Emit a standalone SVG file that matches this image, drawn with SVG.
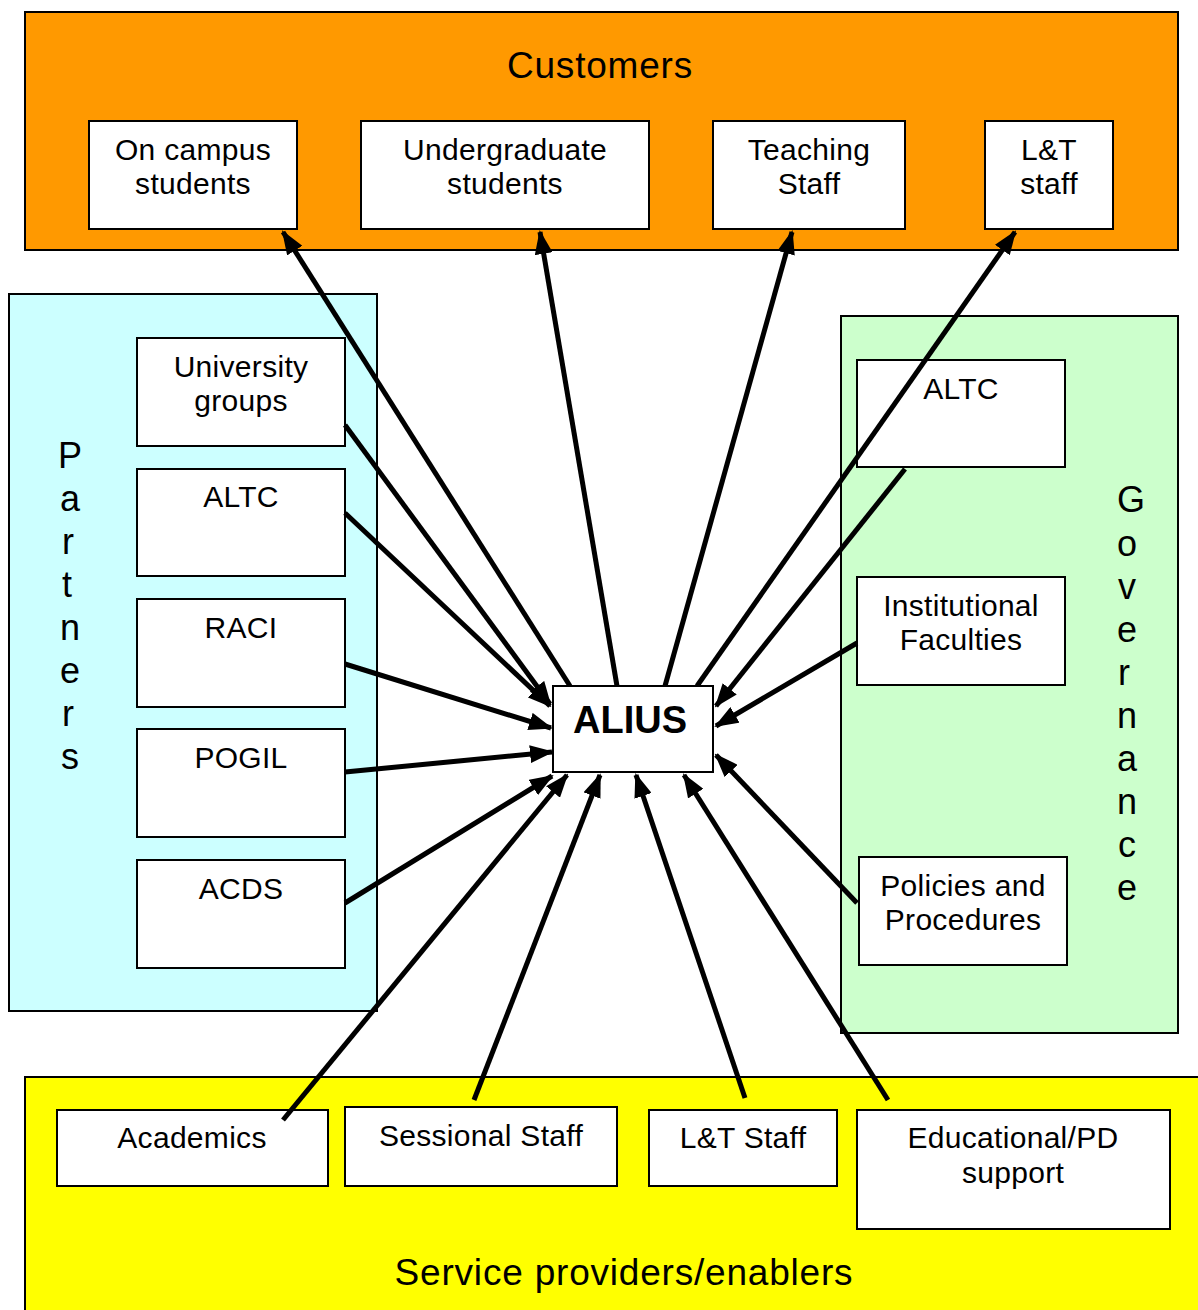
<svg xmlns="http://www.w3.org/2000/svg" width="1198" height="1310" viewBox="0 0 1198 1310">
<defs>
<style>
.grp{stroke:#000;stroke-width:2}
.box{fill:#fff;stroke:#000;stroke-width:2}
.t{font-family:"Liberation Sans",Arial,sans-serif;font-size:30px;letter-spacing:0.3px;fill:#000;text-anchor:middle}
.big{font-family:"Liberation Sans",Arial,sans-serif;font-size:36px;fill:#000;text-anchor:middle}
.title{font-family:"Liberation Sans",Arial,sans-serif;font-size:37px;letter-spacing:0.8px;fill:#000;text-anchor:middle}
.c{stroke:#000;stroke-width:5;fill:none;marker-end:url(#ah)}
</style>
<marker id="ah" markerUnits="userSpaceOnUse" markerWidth="24" markerHeight="18" refX="22" refY="9" orient="auto">
<path d="M0,0 L24,9 L0,18 Z" fill="#000"/>
</marker>
</defs>
<rect width="1198" height="1310" fill="#fff"/>
<g id="customers">
<rect class="grp" x="25" y="12" width="1153" height="238" fill="#FF9900"/>
<text class="title" x="600" y="78">Customers</text>
</g>
<g id="partners">
<rect class="grp" x="9" y="294" width="368" height="717" fill="#CCFFFF"/>
<text class="big" x="70" y="468">P</text>
<text class="big" x="70" y="511">a</text>
<text class="big" x="68" y="554">r</text>
<text class="big" x="67" y="597">t</text>
<text class="big" x="70" y="640">n</text>
<text class="big" x="70" y="683">e</text>
<text class="big" x="68" y="726">r</text>
<text class="big" x="70" y="769">s</text>
</g>
<g id="governance">
<rect class="grp" x="841" y="316" width="337" height="717" fill="#CCFFCC"/>
<text class="big" x="1131" y="512">G</text>
<text class="big" x="1127" y="556">o</text>
<text class="big" x="1127" y="599">v</text>
<text class="big" x="1127" y="642">e</text>
<text class="big" x="1124" y="685">r</text>
<text class="big" x="1127" y="728">n</text>
<text class="big" x="1127" y="771">a</text>
<text class="big" x="1127" y="814">n</text>
<text class="big" x="1127" y="857">c</text>
<text class="big" x="1127" y="900">e</text>
</g>
<g id="service">
<rect class="grp" x="25" y="1077" width="1180" height="240" fill="#FFFF00"/>
<text class="title" x="624" y="1285">Service providers/enablers</text>
</g>
<g id="n-oncampus"><rect class="box" x="89" y="121" width="208" height="108"/><text class="t" x="193" y="160">On campus</text><text class="t" x="193" y="194">students</text></g>
<g id="n-undergrad"><rect class="box" x="361" y="121" width="288" height="108"/><text class="t" x="505" y="160">Undergraduate</text><text class="t" x="505" y="194">students</text></g>
<g id="n-teaching"><rect class="box" x="713" y="121" width="192" height="108"/><text class="t" x="809" y="160">Teaching</text><text class="t" x="809" y="194">Staff</text></g>
<g id="n-ltstaff-top"><rect class="box" x="985" y="121" width="128" height="108"/><text class="t" x="1049" y="160">L&amp;T</text><text class="t" x="1049" y="194">staff</text></g>
<g id="n-unigroups"><rect class="box" x="137" y="338" width="208" height="108"/><text class="t" x="241" y="377">University</text><text class="t" x="241" y="411">groups</text></g>
<g id="n-altc-left"><rect class="box" x="137" y="469" width="208" height="107"/><text class="t" x="241" y="507">ALTC</text></g>
<g id="n-raci"><rect class="box" x="137" y="599" width="208" height="108"/><text class="t" x="241" y="638">RACI</text></g>
<g id="n-pogil"><rect class="box" x="137" y="729" width="208" height="108"/><text class="t" x="241" y="768">POGIL</text></g>
<g id="n-acds"><rect class="box" x="137" y="860" width="208" height="108"/><text class="t" x="241" y="899">ACDS</text></g>
<g id="n-altc-right"><rect class="box" x="857" y="360" width="208" height="107"/><text class="t" x="961" y="399">ALTC</text></g>
<g id="n-faculties"><rect class="box" x="857" y="577" width="208" height="108"/><text class="t" x="961" y="616">Institutional</text><text class="t" x="961" y="650">Faculties</text></g>
<g id="n-policies"><rect class="box" x="859" y="857" width="208" height="108"/><text class="t" x="963" y="896">Policies and</text><text class="t" x="963" y="930">Procedures</text></g>
<g id="n-academics"><rect class="box" x="57" y="1110" width="271" height="76"/><text class="t" x="192" y="1148">Academics</text></g>
<g id="n-sessional"><rect class="box" x="345" y="1107" width="272" height="79"/><text class="t" x="481" y="1146">Sessional Staff</text></g>
<g id="n-ltstaff-bottom"><rect class="box" x="649" y="1110" width="188" height="76"/><text class="t" x="743" y="1148">L&amp;T Staff</text></g>
<g id="n-educational"><rect class="box" x="857" y="1110" width="313" height="119"/><text class="t" x="1013" y="1148">Educational/PD</text><text class="t" x="1013" y="1183">support</text></g>
<g id="connectors">
<line class="c" x1="570" y1="686" x2="283" y2="232"/>
<line class="c" x1="617" y1="686" x2="540" y2="232"/>
<line class="c" x1="665" y1="686" x2="792" y2="232"/>
<line class="c" x1="697" y1="686" x2="1015" y2="232"/>
<line class="c" x1="345" y1="425" x2="550" y2="704"/>
<line class="c" x1="345" y1="513" x2="550" y2="706"/>
<line class="c" x1="345" y1="664" x2="551" y2="728"/>
<line class="c" x1="345" y1="772" x2="552" y2="752"/>
<line class="c" x1="345" y1="903" x2="552" y2="776"/>
<line class="c" x1="283" y1="1120" x2="567" y2="775"/>
<line class="c" x1="474" y1="1100" x2="600" y2="775"/>
<line class="c" x1="745" y1="1098" x2="636" y2="775"/>
<line class="c" x1="888" y1="1100" x2="684" y2="775"/>
<line class="c" x1="857" y1="903" x2="716" y2="755"/>
<line class="c" x1="857" y1="643" x2="716" y2="726"/>
<line class="c" x1="905" y1="469" x2="716" y2="706"/>
</g>
<g id="n-alius"><rect class="box" x="553" y="686" width="160" height="86"/><text x="630" y="733" font-family="Liberation Sans,Arial,sans-serif" font-size="38" font-weight="bold" text-anchor="middle">ALIUS</text></g>
</svg>
